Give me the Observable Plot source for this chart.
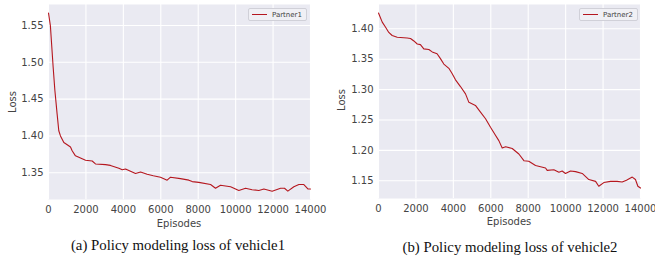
<!DOCTYPE html>
<html>
<head>
<meta charset="utf-8">
<script src="https://cdn.jsdelivr.net/npm/d3@7"></script>
<script src="https://cdn.jsdelivr.net/npm/@observablehq/plot@0.6"></script>
<style>
  body { margin: 0; background: #fff; }
  #root { position: relative; width: 655px; height: 258px; overflow: hidden; font-family: "DejaVu Sans", sans-serif; }
  .panel { position: absolute; top: 0; }
  .ttl { position: absolute; font-size: 10px; color: #444; white-space: nowrap; transform: translate(-50%, -50%); }
  .ylab { transform: translate(-50%, -50%) rotate(-90deg); }
  .cap { position: absolute; font-family: "Liberation Serif", "Times New Roman", serif; font-size: 14.8px; color: #111; white-space: nowrap; transform: translate(-50%, -50%); }
  .legend { position: absolute; box-sizing: border-box; background: #f0f0f5; border: 1px solid #d0d0d8; border-radius: 2px; font-size: 7px; color: #444; display: flex; align-items: center; padding-left: 3px; }
  .legend span.sw { display: inline-block; width: 15px; height: 0; border-top: 1.3px solid #b5171f; margin-right: 5px; }
</style>
</head>
<body>
<div id="root"></div>
<script>
// Panel (a): Partner1
const ep1 = [0, 100, 250, 340, 460, 550, 640, 820, 1000, 1175, 1265, 1440, 1710, 1980, 2335, 2510, 3050, 3310, 3760, 3940, 4115, 4650, 4920, 5270, 5600, 5985, 6340, 6520, 7050, 7500, 7680, 8030, 8660, 8925, 9190, 9730, 10170, 10530, 10880, 11240, 11510, 11950, 12400, 12610, 12790, 13110, 13380, 13645, 13860, 14000];
const loss1 = [1.567, 1.550, 1.493, 1.462, 1.430, 1.407, 1.400, 1.391, 1.388, 1.385, 1.380, 1.373, 1.370, 1.367, 1.366, 1.362, 1.361, 1.360, 1.356, 1.354, 1.355, 1.349, 1.351, 1.348, 1.346, 1.344, 1.340, 1.344, 1.342, 1.340, 1.338, 1.337, 1.334, 1.329, 1.333, 1.331, 1.326, 1.329, 1.327, 1.326, 1.328, 1.325, 1.329, 1.329, 1.325, 1.331, 1.334, 1.334, 1.328, 1.328];

// Panel (b): Partner2
const ep2 = [0, 200, 370, 550, 730, 1000, 1530, 1710, 1890, 2070, 2240, 2420, 2690, 2870, 3130, 3310, 3490, 3760, 3940, 4115, 4380, 4650, 4830, 5180, 5450, 5720, 5985, 6250, 6430, 6610, 6790, 7145, 7500, 7770, 8030, 8390, 8660, 8925, 9015, 9370, 9640, 9815, 9990, 10260, 10530, 10885, 11240, 11600, 11770, 12040, 12400, 12750, 13020, 13250, 13560, 13730, 13860, 14000];
const loss2 = [1.426, 1.411, 1.403, 1.394, 1.389, 1.386, 1.385, 1.384, 1.380, 1.375, 1.374, 1.367, 1.366, 1.362, 1.359, 1.351, 1.342, 1.335, 1.326, 1.316, 1.305, 1.293, 1.279, 1.274, 1.263, 1.252, 1.238, 1.225, 1.216, 1.204, 1.206, 1.203, 1.194, 1.183, 1.182, 1.175, 1.173, 1.171, 1.167, 1.168, 1.164, 1.166, 1.162, 1.166, 1.165, 1.162, 1.152, 1.149, 1.141, 1.147, 1.149, 1.149, 1.148, 1.151, 1.156, 1.152, 1.141, 1.138];

const xTicks = [0, 2000, 4000, 6000, 8000, 10000, 12000, 14000];
const yTicks1 = [1.35, 1.40, 1.45, 1.50, 1.55];
const yTicks2 = [1.15, 1.20, 1.25, 1.30, 1.35, 1.40];
const seriesNames = ["Partner1", "Partner2"];
const captions = ["(a) Policy modeling loss of vehicle1", "(b) Policy modeling loss of vehicle2"];
const xTitle = "Episodes";
const yTitle = "Loss";

const LINE = "#b5171f";
const BG = "#EAEAF2";

function panel(ep, loss, yTicks, yDomain, opts) {
  const data = ep.map((e, i) => ({ e, v: loss[i] }));
  return Plot.plot({
    width: opts.width,
    height: 225,
    marginLeft: 48,
    marginRight: opts.marginRight,
    marginTop: 4,
    marginBottom: opts.marginBottom,
    style: { background: "transparent", overflow: "visible", fontFamily: "DejaVu Sans, sans-serif", fontSize: "10px", color: "#444" },
    x: { domain: [0, 14000] },
    y: { domain: yDomain },
    marks: [
      Plot.frame({ fill: BG, stroke: null }),
      Plot.gridX(xTicks, { stroke: "#fff", strokeOpacity: 1, strokeWidth: 1.1 }),
      Plot.gridY(yTicks, { stroke: "#fff", strokeOpacity: 1, strokeWidth: 1.1 }),
      Plot.axisX(xTicks, { tickSize: 0, tickPadding: 6, tickFormat: d => String(d), label: null, fill: "#444" }),
      Plot.axisY(yTicks, { tickSize: 0, tickPadding: 5, tickFormat: d => d.toFixed(2), label: null, fill: "#444" }),
      Plot.line(data, { x: "e", y: "v", stroke: LINE, strokeWidth: 1.1 })
    ]
  });
}

const root = document.getElementById("root");

function addAt(el, left) { el.classList.add("panel"); el.style.left = left + "px"; root.appendChild(el); }

addAt(panel(ep1, loss1, yTicks1, [1.3137, 1.5785], { width: 330, marginRight: 20, marginBottom: 26 }), 0);
addAt(panel(ep2, loss2, yTicks2, [1.1208, 1.44], { width: 325, marginRight: 15, marginBottom: 27 }), 330);

function div(cls, text, x, y) {
  const d = document.createElement("div");
  d.className = cls;
  d.textContent = text;
  d.style.left = x + "px";
  d.style.top = y + "px";
  root.appendChild(d);
  return d;
}

div("ttl", xTitle, 179, 223);
div("ttl", xTitle, 509, 221);
div("ttl ylab", yTitle, 12, 102);
div("ttl ylab", yTitle, 341, 100);
div("cap", captions[0], 178, 245);
div("cap", captions[1], 510, 247);

function legend(name, left, top, w) {
  const d = document.createElement("div");
  d.className = "legend";
  d.style.left = left + "px";
  d.style.top = top + "px";
  d.style.width = w + "px";
  d.style.height = "13px";
  const sw = document.createElement("span");
  sw.className = "sw";
  d.appendChild(sw);
  d.appendChild(document.createTextNode(name));
  root.appendChild(d);
}
legend(seriesNames[0], 248, 8, 59);
legend(seriesNames[1], 579, 8, 59);
</script>
</body>
</html>
